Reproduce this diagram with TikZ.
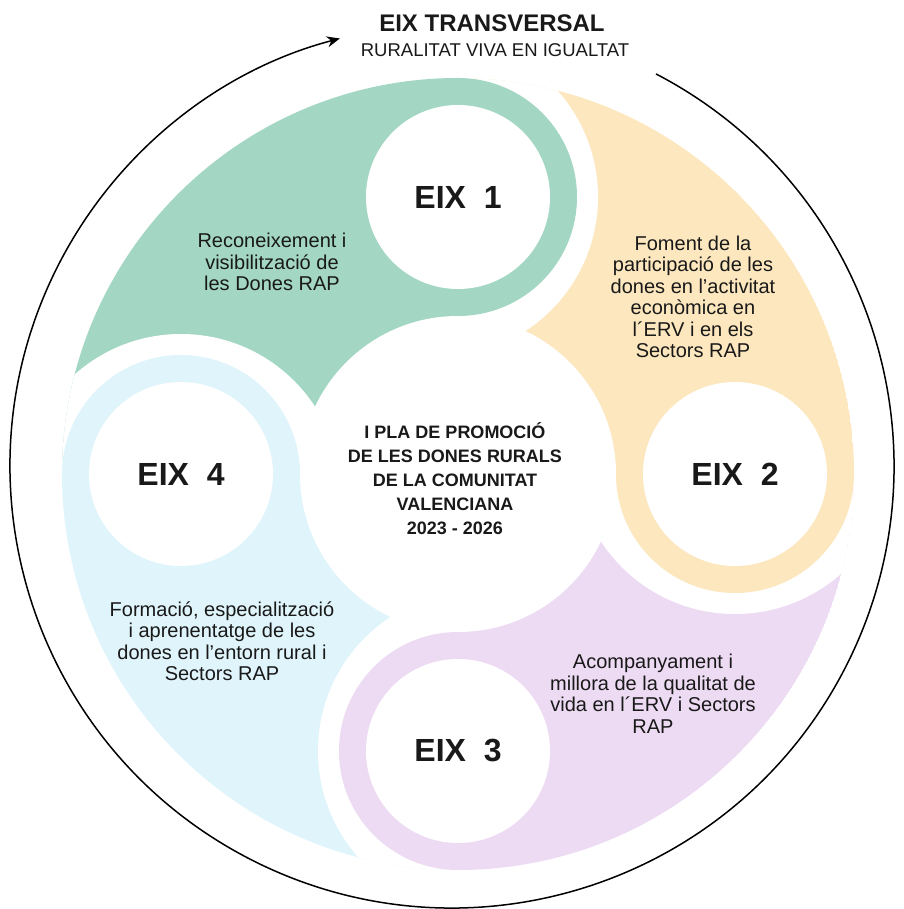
\documentclass[tikz,border=0pt]{standalone}
\usepackage{fontspec}
\setmainfont{Liberation Sans}
\usetikzlibrary{arrows.meta}
\usetikzlibrary{calc}

\definecolor{eixgreen}{RGB}{163,215,195}
\definecolor{eixorange}{RGB}{252,231,190}
\definecolor{eixpurple}{RGB}{237,219,243}
\definecolor{eixcyan}{RGB}{224,245,251}
\definecolor{eixtext}{RGB}{25,25,25}

\tikzset{x=1pt, y=1pt,
head/.style={ % white disc with the axis number
circle,
fill=white,
minimum size=184pt,
inner sep=0pt,
font=\fontsize{32}{32}\selectfont\bfseries,
text=eixtext},
hub/.style={ % white disc in the middle
circle,
fill=white,
minimum size=300pt,
inner sep=0pt,
align=center,
font=\fontsize{18}{24}\selectfont\bfseries,
text=eixtext},
desc/.style={align=center, font=\fontsize{20}{21.5}\selectfont, text=eixtext},
transversal/.style={line width=1.5pt, -{Stealth[length=13pt,width=11pt]}}}

\begin{document}
\begin{tikzpicture}
\useasboundingbox (-458,-435) rectangle (445,474);
% centres of the four axes
\coordinate (h1) at (90:277);
\coordinate (h2) at (0:277);
\coordinate (h3) at (270:277);
\coordinate (h4) at (180:277);

% tails, each one cut by the gap round the next axis
\begin{scope}
\clip (0,0) -- (90:396) arc[start angle=90, end angle=180, radius=396] -- cycle;
\fill[eixgreen] (0,0) circle[radius=396];
\fill[white] (-277,-20) circle[radius=160];
\end{scope}
\begin{scope}
\clip (0,0) -- (0:396) arc[start angle=0, end angle=90, radius=396] -- cycle;
\fill[eixorange] (0,0) circle[radius=396];
\fill[white] (-20,277) circle[radius=160];
\end{scope}
\begin{scope}
\clip (0,0) -- (270:396) arc[start angle=270, end angle=360, radius=396] -- cycle;
\fill[eixpurple] (0,0) circle[radius=396];
\fill[white] (277,20) circle[radius=160];
\end{scope}
\begin{scope}
\clip (0,0) -- (180:396) arc[start angle=180, end angle=270, radius=396] -- cycle;
\fill[eixcyan] (0,0) circle[radius=396];
\fill[white] (20,-277) circle[radius=160];
\end{scope}
% gap round the middle
\fill[white] (0,0) circle[radius=158];

% rings round the axes
\fill[eixgreen] (h1) circle[radius=119];
\fill[eixorange] (h2) circle[radius=119];
\fill[eixpurple] (h3) circle[radius=119];
\fill[eixcyan] (h4) circle[radius=119];

\node[head] (eix1) at (h1) {EIX\ \ 1};
\node[head] (eix2) at (h2) {EIX\ \ 2};
\node[head] (eix3) at (h3) {EIX\ \ 3};
\node[head] (eix4) at (h4) {EIX\ \ 4};

\node[hub] (pla) at (-3,-5) {I PLA DE PROMOCIÓ\\DE LES DONES RURALS\\DE LA COMUNITAT\\VALENCIANA\\2023 - 2026};

\node[desc] (txt1) at (-186,212) {Reconeixement i\\visibilització de\\les Dones RAP};
\node[desc] (txt2) at (235,177) {Foment de la\\participació de les\\dones en l'activitat\\econòmica en\\l´ERV i en els\\Sectors RAP};
\node[desc] (txt3) at (195,-220) {Acompanyament i\\millora de la qualitat de\\vida en l´ERV i Sectors\\RAP};
\node[desc] (txt4) at (-236,-167) {Formació, especialització\\i aprenentatge de les\\dones en l'entorn rural i\\Sectors RAP};

% transversal axis
\node[font=\fontsize{24}{24}\selectfont\bfseries, text=eixtext] (titol) at (34,450.5) {EIX TRANSVERSAL};
\node[font=\fontsize{18.5}{18.5}\selectfont, text=eixtext] (subtitol) at (37,424) {RURALITAT VIVA EN IGUALTAT};
\draw[transversal] ($(-6,8)+(62.5:442)$) arc[start angle=62.5, end angle=-255.3, radius=442];
\end{tikzpicture}
\end{document}
